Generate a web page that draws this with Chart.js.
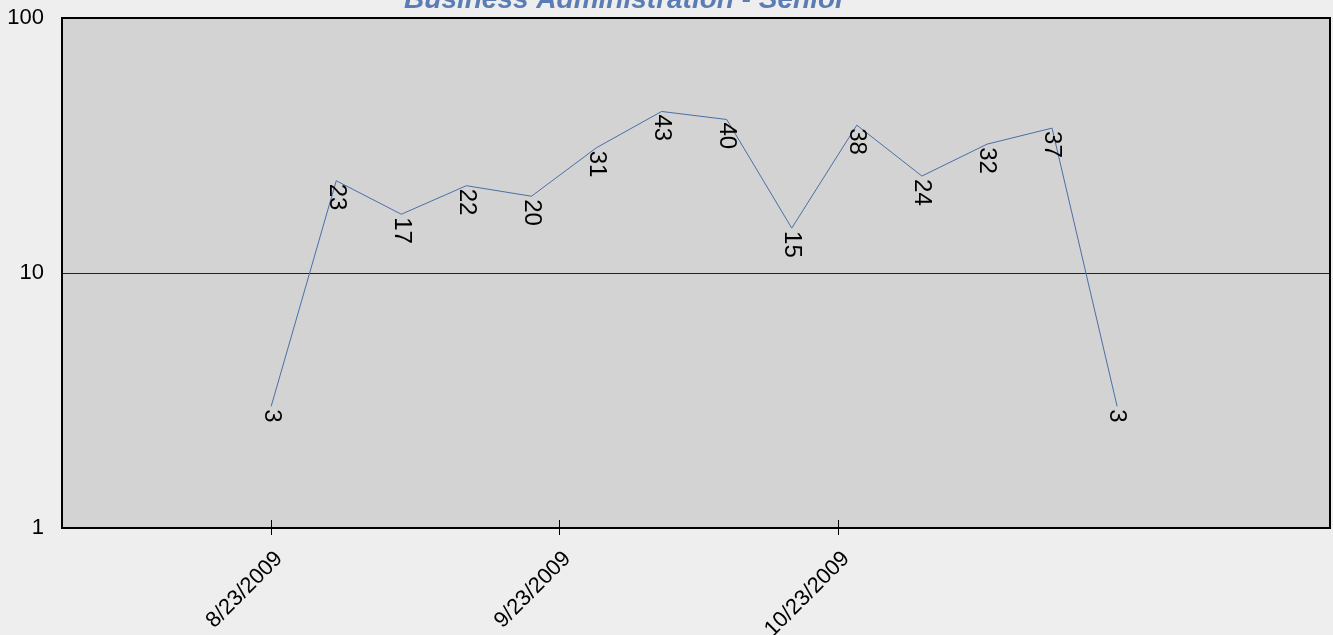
<!DOCTYPE html>
<html>
<head>
<meta charset="utf-8">
<script src="https://cdn.jsdelivr.net/npm/chart.js@4.4.1/dist/chart.umd.min.js"></script>
<style>
  html, body { margin: 0; padding: 0; background: #eeeeee; }
  #wrap { width: 1333px; height: 635px; }
</style>
</head>
<body>
<div id="wrap"><canvas id="weekly-chart" width="1333" height="635"></canvas></div>
<script>
const chart_title = 'Business Administration - Senior';
const week_dates = ['2009-08-23', '2009-08-30', '2009-09-06', '2009-09-13', '2009-09-20', '2009-09-27', '2009-10-04',
                    '2009-10-11', '2009-10-18', '2009-10-25', '2009-11-01', '2009-11-08', '2009-11-15', '2009-11-22'];
const week_counts = [3, 23, 17, 22, 20, 31, 43, 40, 15, 38, 24, 32, 37, 3];
const x_tick_dates = ['2009-08-23', '2009-09-23', '2009-10-23'];
const y_tick_values = [1, 10, 100];

const day_ms = 86400000;
const base_ms = Date.parse('2009-08-23T00:00:00Z');

function to_days(d) {
    return (Date.parse(d + 'T00:00:00Z') - base_ms) / day_ms;
}

function fmt_date(v) {
    let d = new Date(base_ms + v * day_ms);
    return (d.getUTCMonth() + 1) + '/' + d.getUTCDate() + '/' + d.getUTCFullYear();
}

let point_data = week_dates.map((d, i) => ({ x: to_days(d), y: week_counts[i] }));

// plot background, border, ticks, value labels and title
const decor_plugin = {
    id: 'decor',
    beforeDraw(chart) {
        let ctx = chart.ctx;
        let a = chart.chartArea;
        ctx.save();
        ctx.fillStyle = '#d3d3d3';
        ctx.fillRect(a.left, a.top, a.right - a.left, a.bottom - a.top);
        ctx.restore();
    },
    afterDraw(chart) {
        let ctx = chart.ctx;
        let a = chart.chartArea;
        let xs = chart.scales.x;
        ctx.save();
        ctx.strokeStyle = '#000';
        ctx.lineWidth = 2;
        ctx.strokeRect(a.left, a.top, a.right - a.left, a.bottom - a.top);

        ctx.lineWidth = 1;
        xs.ticks.forEach(t => {
            let px = Math.round(xs.getPixelForValue(t.value)) + 0.5;
            ctx.beginPath();
            ctx.moveTo(px, a.bottom - 8);
            ctx.lineTo(px, a.bottom + 7);
            ctx.stroke();
        });

        // rotated value labels
        let meta = chart.getDatasetMeta(0);
        ctx.fillStyle = '#000';
        ctx.font = '24px "Liberation Sans", Arial, sans-serif';
        ctx.textAlign = 'left';
        ctx.textBaseline = 'middle';
        meta.data.forEach((pt, i) => {
            ctx.save();
            ctx.translate(pt.x, pt.y + 3);
            ctx.rotate(Math.PI / 2);
            ctx.fillText(String(week_counts[i]), 0, 0);
            ctx.restore();
        });

        ctx.fillStyle = '#5b7db5';
        ctx.font = 'italic bold 28px "Liberation Sans", Arial, sans-serif';
        ctx.textAlign = 'center';
        ctx.textBaseline = 'alphabetic';
        ctx.fillText(chart_title, 625, 8);
        ctx.restore();
    }
};

new Chart(document.getElementById('weekly-chart').getContext('2d'), {
    type: 'line',
    data: {
        datasets: [{
            label: chart_title,
            data: point_data,
            borderColor: '#4a6fa8',
            borderWidth: 1,
            pointRadius: 0,
            fill: false,
            tension: 0
        }]
    },
    options: {
        responsive: false,
        animation: false,
        devicePixelRatio: 1,
        layout: { padding: { top: 18, right: 3, left: 0, bottom: 0 } },
        plugins: {
            legend: { display: false },
            title: { display: false },
            tooltip: { enabled: false }
        },
        scales: {
            x: {
                type: 'linear',
                min: -22.5,
                max: 113.9,
                afterBuildTicks: scale => {
                    scale.ticks = x_tick_dates.map(d => ({ value: to_days(d) }));
                },
                afterFit: scale => {
                    scale.height = 107;
                    scale.paddingLeft = 0;
                    scale.paddingRight = 0;
                },
                grid: { display: false },
                border: { display: false },
                ticks: {
                    autoSkip: false,
                    maxRotation: 45,
                    minRotation: 45,
                    padding: 10,
                    labelOffset: 8,
                    color: '#000',
                    font: { family: '"Liberation Sans", Arial, sans-serif', size: 22 },
                    callback: v => fmt_date(v)
                }
            },
            y: {
                type: 'logarithmic',
                min: 1,
                max: 100,
                afterBuildTicks: scale => {
                    scale.ticks = y_tick_values.map(v => ({ value: v }));
                },
                afterFit: scale => {
                    scale.width = 62;
                    scale.paddingTop = 0;
                    scale.paddingBottom = 0;
                },
                grid: { color: '#222', lineWidth: 1, drawTicks: false },
                border: { display: false },
                ticks: {
                    padding: 18,
                    color: '#000',
                    font: { family: '"Liberation Sans", Arial, sans-serif', size: 22 },
                    callback: v => String(v)
                }
            }
        }
    },
    plugins: [decor_plugin]
});
</script>
</body>
</html>
